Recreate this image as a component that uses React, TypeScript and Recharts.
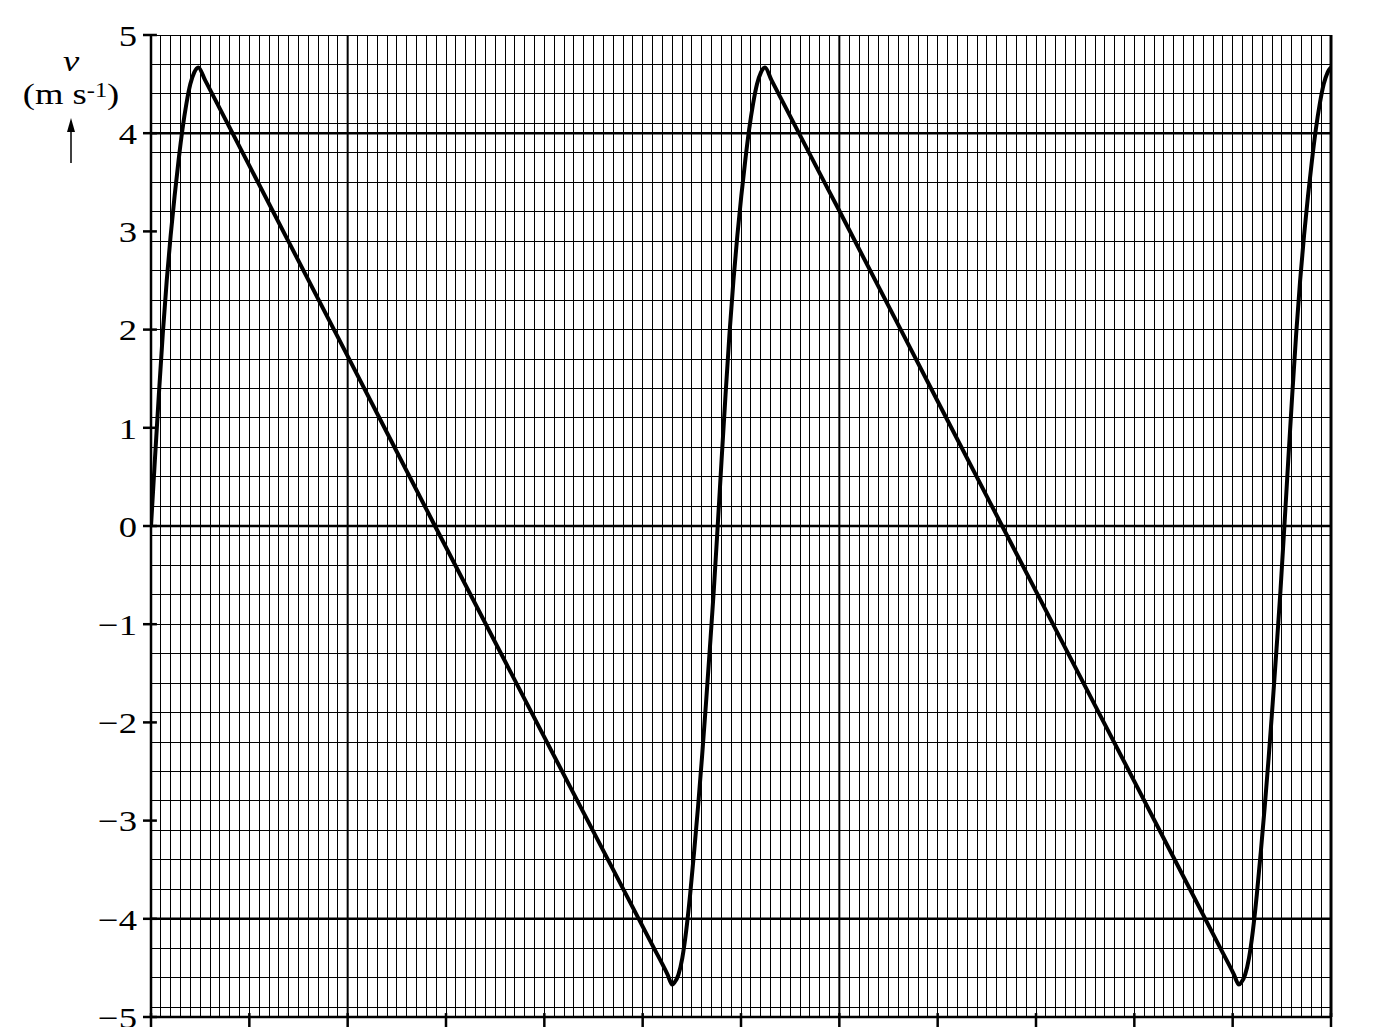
import React from "react";
import {
  LineChart,
  Line,
  XAxis,
  YAxis,
  CartesianGrid,
  ReferenceLine,
} from "recharts";

// time in tick units (12 divisions across the axis)
const times = [
  0, 0.04, 0.08, 0.12, 0.16, 0.2, 0.24, 0.28, 0.32, 0.36, 0.4, 0.44, 0.481,
  0.55, 0.7, 1.0, 2.0, 2.888, 4.0, 5.1, 5.25, 5.301,
  5.323, 5.363, 5.403, 5.443, 5.483, 5.523, 5.563, 5.603, 5.643, 5.683, 5.723, 5.763,
  5.803, 5.843, 5.883, 5.923, 5.963, 6.003, 6.043, 6.083, 6.123, 6.163, 6.203, 6.244,
  6.31, 6.46, 6.76, 7.0, 8.0, 8.656, 10.0, 10.86, 11.01, 11.064,
  11.086, 11.126, 11.166, 11.206, 11.246, 11.286, 11.326, 11.366, 11.406, 11.446, 11.486, 11.526,
  11.566, 11.606, 11.646, 11.686, 11.726, 11.766, 11.806, 11.846, 11.886, 11.926, 11.966, 12.0,
];

// velocity v (m s^-1)
const velocities = [
  0, 0.68, 1.34, 1.96, 2.5, 2.96, 3.36, 3.72, 4.04, 4.3, 4.5, 4.62, 4.67,
  4.54, 4.25, 3.67, 1.73, 0, -2.15, -4.27, -4.56, -4.67,
  -4.65, -4.57, -4.4, -4.12, -3.75, -3.32, -2.86, -2.36, -1.82, -1.25, -0.66, 0,
  0.68, 1.34, 1.96, 2.5, 2.96, 3.36, 3.72, 4.04, 4.3, 4.5, 4.62, 4.67,
  4.54, 4.25, 3.67, 3.21, 1.27, 0, -2.6, -4.27, -4.56, -4.67,
  -4.65, -4.57, -4.4, -4.12, -3.75, -3.32, -2.86, -2.36, -1.82, -1.25, -0.66, 0,
  0.68, 1.34, 1.96, 2.5, 2.96, 3.36, 3.72, 4.04, 4.3, 4.5, 4.62, 4.67,
];

const xTicks = [0, 1, 2, 3, 4, 5, 6, 7, 8, 9, 10, 11, 12];
const yTicks = [-5, -4, -3, -2, -1, 0, 1, 2, 3, 4, 5];
const yTickLabels = ["\u22125", "\u22124", "\u22123", "\u22122", "\u22121", "0", "1", "2", "3", "4", "5"];
const yMajorLines = [-4, 0, 4];
const xMajorLines = [2, 7];

const xMinor = Array.from({ length: 121 }, (_, i) => i / 10);
const yMinor = Array.from({ length: 101 }, (_, i) => (i - 50) / 10);

const data = times.map((t, i) => ({ t, v: velocities[i] }));

const FONT = "'Liberation Serif', 'Times New Roman', serif";

const YTick = (props: any) => {
  const { x, y, payload } = props;
  const idx = yTicks.indexOf(payload.value);
  const label = idx >= 0 ? yTickLabels[idx] : String(payload.value);
  return (
    <g transform={`translate(${x},${y})`}>
      <text
        x={0}
        y={0}
        dy="0.36em"
        textAnchor="end"
        transform="scale(1.22,1)"
        fontFamily={FONT}
        fontSize={30}
        fill="#000"
      >
        {label}
      </text>
    </g>
  );
};

export default function App() {
  return (
    <div style={{ position: "relative", width: 1377, height: 1027 }}>
      <style>{"body{margin:0;overflow:hidden;background:#fff}"}</style>
      <LineChart
        width={1377}
        height={1027}
        data={data}
        margin={{ top: 35, right: 46, bottom: 0, left: 91 }}
      >
        <CartesianGrid
          horizontalValues={yMinor}
          verticalValues={xMinor}
          stroke="#000"
          strokeWidth={1}
          shapeRendering="crispEdges"
        />
        {yMajorLines.map((v) => (
          <ReferenceLine key={"y" + v} y={v} stroke="#000" strokeWidth={2.5} />
        ))}
        {xMajorLines.map((t) => (
          <ReferenceLine key={"x" + t} x={t} stroke="#000" strokeWidth={2} />
        ))}
        <ReferenceLine x={12} stroke="#000" strokeWidth={3} />
        {yTicks.map((v) => (
          <ReferenceLine
            key={"yt" + v}
            segment={[{ x: 0, y: v }, { x: 0.06, y: v }]}
            stroke="#000"
            strokeWidth={2.5}
          />
        ))}
        {xTicks.map((t) => (
          <ReferenceLine
            key={"xt" + t}
            segment={[{ x: t, y: -5 }, { x: t, y: -4.96 }]}
            stroke="#000"
            strokeWidth={2.5}
          />
        ))}
        <XAxis
          dataKey="t"
          type="number"
          domain={[0, 12]}
          ticks={xTicks}
          height={10}
          tickSize={10}
          tickFormatter={() => ""}
          axisLine={{ stroke: "#000", strokeWidth: 2.5 }}
          tickLine={{ stroke: "#000", strokeWidth: 2.5 }}
          allowDataOverflow
        />
        <YAxis
          type="number"
          domain={[-5, 5]}
          ticks={yTicks}
          width={60}
          tickSize={8}
          tickMargin={6}
          tick={<YTick />}
          axisLine={{ stroke: "#000", strokeWidth: 2.5 }}
          tickLine={{ stroke: "#000", strokeWidth: 2.5 }}
          allowDataOverflow
        />
        <Line
          type="monotone"
          dataKey="v"
          stroke="#000"
          strokeWidth={4}
          dot={false}
          isAnimationActive={false}
        />
      </LineChart>
      <svg
        width={150}
        height={180}
        style={{ position: "absolute", left: 0, top: 0, pointerEvents: "none" }}
      >
        <g transform="translate(71,0) scale(1.22,1)">
          <text
            x={0}
            y={71}
            textAnchor="middle"
            fontFamily={FONT}
            fontStyle="italic"
            fontSize={30}
            fill="#000"
          >
            v
          </text>
          <text x={0} y={104} textAnchor="middle" fontFamily={FONT} fontSize={30} fill="#000">
            (m s
            <tspan dy={-7} fontSize={20}>-1</tspan>
            <tspan dy={7}>)</tspan>
          </text>
        </g>
        <line x1={71} y1={163} x2={71} y2={128} stroke="#000" strokeWidth={1.5} />
        <polygon points="71,118 67,132 75,132" fill="#000" />
      </svg>
    </div>
  );
}
